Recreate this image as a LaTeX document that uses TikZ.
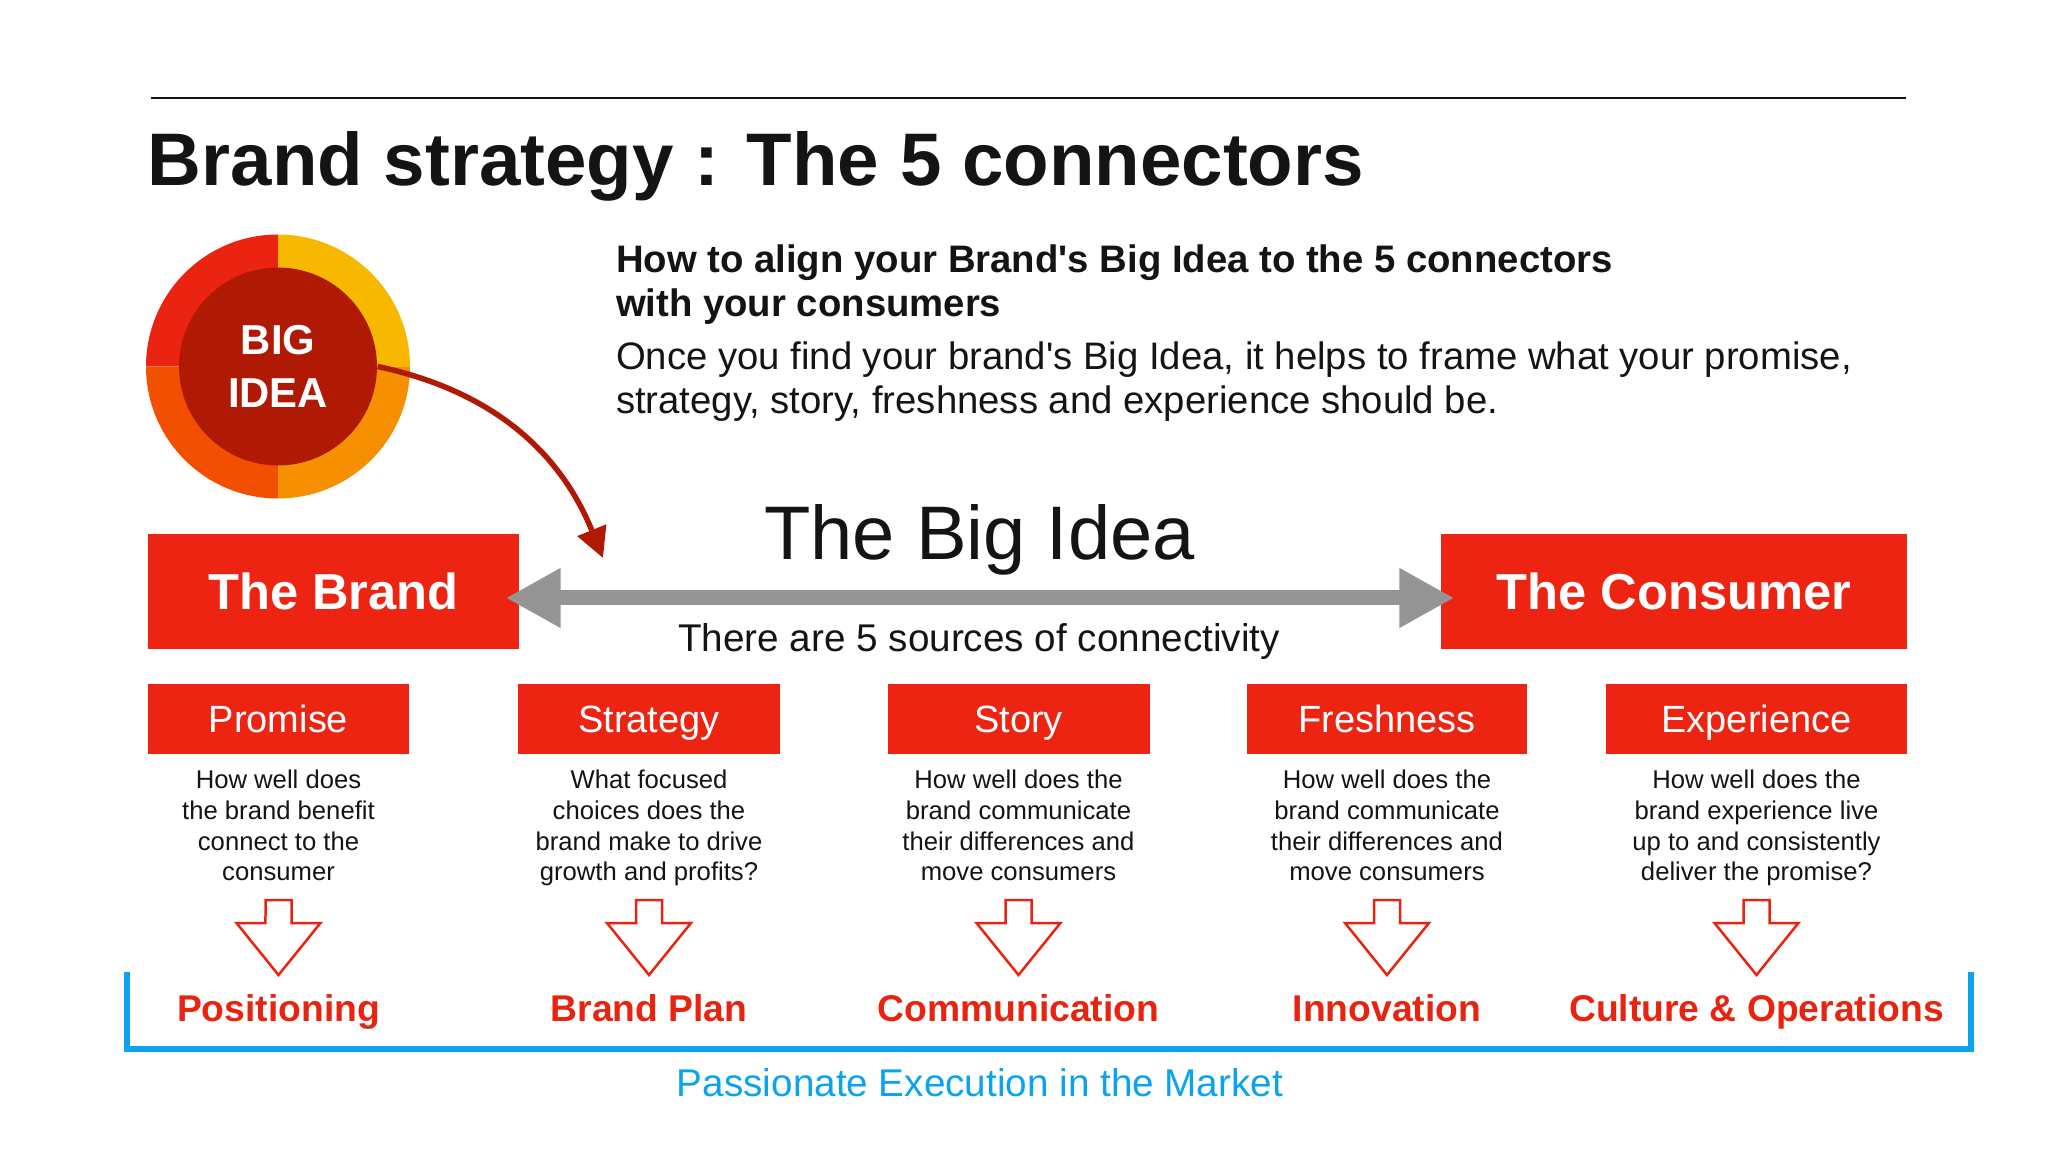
\documentclass[tikz,border=0pt]{standalone}
\usepackage{fontspec}
\setmainfont{Liberation Sans}[Ligatures=TeXOff]
\usepackage{tikz}
\usetikzlibrary{arrows.meta,positioning,calc}
\definecolor{boxred}{HTML}{EC2411}
\definecolor{labelred}{HTML}{E8230F}
\definecolor{ideadark}{HTML}{B01A05}
\definecolor{ringred}{HTML}{EA2410}
\definecolor{ringyellow}{HTML}{F8B800}
\definecolor{ringorange}{HTML}{F79000}
\definecolor{ringflame}{HTML}{F25000}
\definecolor{arrowgray}{HTML}{959595}
\definecolor{execblue}{HTML}{0BA3EE}
\definecolor{inkblack}{HTML}{141414}

\begin{document}
\begin{tikzpicture}[
    text=inkblack,
    txt/.style={inner sep=0pt, outer sep=0pt},
    sidebox/.style={fill=boxred, text=white, inner sep=0pt, minimum height=1.15cm, text height=10.4pt, text depth=0pt, font=\fontsize{14.4}{17}\selectfont\bfseries},
    conbox/.style={fill=boxred, text=white, inner sep=0pt, minimum height=0.70cm, text height=7.7pt, text depth=0pt, font=\fontsize{10.8}{13}\selectfont},
    question/.style={txt, align=center, anchor=base, font=\fontsize{7.3}{8.8}\selectfont},
    outcome/.style={txt, anchor=base, text=labelred, font=\fontsize{10.6}{13}\selectfont\bfseries},
    hollow/.style={draw=labelred, line width=0.25mm, fill=white, line join=miter},
    bigarrow/.style={<->, >={Triangle[length=5.5mm,width=5.6mm]}, line width=1.5mm, draw=arrowgray},
    ideaarrow/.style={-{Triangle[length=3mm,width=3mm]}, line width=0.55mm, draw=ideadark},
    execline/.style={draw=execblue, line width=0.6mm}
]
\useasboundingbox (0,0) rectangle (20.48,-11.52);

\draw[line width=0.2mm, inkblack] (1.51,-0.98) -- (19.06,-0.98);
\node[txt, anchor=base west, font=\fontsize{21.2}{25}\selectfont\bfseries] (title) at (1.48,-1.86) {Brand strategy : The 5 connectors};

\coordinate (ideac) at (2.78,-3.665);
\fill[ringred] (ideac) -- ++(0,1.32) arc[start angle=90, end angle=180, radius=1.32] -- cycle;
\fill[ringyellow] (ideac) -- ++(0,1.32) arc[start angle=90, end angle=0, radius=1.32] -- cycle;
\fill[ringflame] (ideac) -- ++(0,-1.32) arc[start angle=270, end angle=180, radius=1.32] -- cycle;
\fill[ringorange] (ideac) -- ++(0,-1.32) arc[start angle=270, end angle=360, radius=1.32] -- cycle;
\node[circle, fill=ideadark, text=white, inner sep=0pt, minimum size=1.98cm, align=center, text depth=-2.4pt, font=\fontsize{11.9}{15.1}\selectfont\bfseries] (idea) at (ideac) {BIG\\IDEA};

\node[txt, anchor=base west, align=left, font=\fontsize{10.9}{12.8}\selectfont\bfseries] (howto) at (6.16,-3.17) {How to align your Brand's Big Idea to the 5 connectors\\with your consumers};
\node[txt, anchor=base west, align=left, font=\fontsize{10.9}{12.8}\selectfont] (once) at (6.16,-4.14) {Once you find your brand's Big Idea, it helps to frame what your promise,\\strategy, story, freshness and experience should be.};

\node[sidebox, minimum width=3.71cm] (brand) at (3.335,-5.915) {The Brand};
\node[sidebox, minimum width=4.66cm] (consumer) at (16.74,-5.915) {The Consumer};
\node[txt, anchor=base, font=\fontsize{21.6}{25}\selectfont] (bigidea) at (9.795,-5.59) {The Big Idea};
\node[txt, anchor=base, font=\fontsize{11}{13}\selectfont] (sources) at (9.79,-6.51) {There are 5 sources of connectivity};

\coordinate (ideatip) at (6.03,-5.58);
\draw[ideaarrow] (idea.east) to[out=-12, in=112] (ideatip);
\draw[bigarrow] ([shift={(-0.14,-0.065)}]brand.east) -- ([shift={(0.14,-0.065)}]consumer.west);

\node[conbox, minimum width=2.61cm] (promise) at (2.785,-7.19) {Promise};
\node[conbox, minimum width=2.62cm] (strategy) at (6.49,-7.19) {Strategy};
\node[conbox, minimum width=2.62cm] (story) at (10.185,-7.19) {Story};
\node[conbox, minimum width=2.80cm] (fresh) at (13.87,-7.19) {Freshness};
\node[conbox, minimum width=3.01cm] (exper) at (17.565,-7.19) {Experience};

\node[question] (qpromise) at (2.785,-8.81) {How well does\\the brand benefit\\connect to the\\consumer};
\node[question] (qstrategy) at (6.49,-8.81) {What focused\\choices does the\\brand make to drive\\growth and profits?};
\node[question] (qstory) at (10.185,-8.81) {How well does the\\brand communicate\\their differences and\\move consumers};
\node[question] (qfresh) at (13.87,-8.81) {How well does the\\brand communicate\\their differences and\\move consumers};
\node[question] (qexper) at (17.565,-8.81) {How well does the\\brand experience live\\up to and consistently\\deliver the promise?};

\node[outcome] (positioning) at (2.785,-10.21) {Positioning};
\node[outcome] (plan) at (6.49,-10.21) {Brand Plan};
\node[outcome] (comm) at (10.185,-10.21) {Communication};
\node[outcome] (innov) at (13.87,-10.21) {Innovation};
\node[outcome] (culture) at (17.565,-10.21) {Culture \& Operations};

\draw[hollow] ([shift={(-0.13,1.21)}]positioning.base) -- ++(0.26,0) -- ++(0,-0.23) -- ++(0.29,0) -- ++(-0.42,-0.52) -- ++(-0.42,0.52) -- ++(0.29,0) -- cycle;
\draw[hollow] ([shift={(-0.13,1.21)}]plan.base) -- ++(0.26,0) -- ++(0,-0.23) -- ++(0.29,0) -- ++(-0.42,-0.52) -- ++(-0.42,0.52) -- ++(0.29,0) -- cycle;
\draw[hollow] ([shift={(-0.13,1.21)}]comm.base) -- ++(0.26,0) -- ++(0,-0.23) -- ++(0.29,0) -- ++(-0.42,-0.52) -- ++(-0.42,0.52) -- ++(0.29,0) -- cycle;
\draw[hollow] ([shift={(-0.13,1.21)}]innov.base) -- ++(0.26,0) -- ++(0,-0.23) -- ++(0.29,0) -- ++(-0.42,-0.52) -- ++(-0.42,0.52) -- ++(0.29,0) -- cycle;
\draw[hollow] ([shift={(-0.13,1.21)}]culture.base) -- ++(0.26,0) -- ++(0,-0.23) -- ++(0.29,0) -- ++(-0.42,-0.52) -- ++(-0.42,0.52) -- ++(0.29,0) -- cycle;

\draw[execline] (1.27,-9.72) |- (19.71,-10.49) -- (19.71,-9.72);
\node[txt, anchor=base, text=execblue, font=\fontsize{11}{13}\selectfont] (passion) at (9.80,-10.96) {Passionate Execution in the Market};

\end{tikzpicture}
\end{document}
